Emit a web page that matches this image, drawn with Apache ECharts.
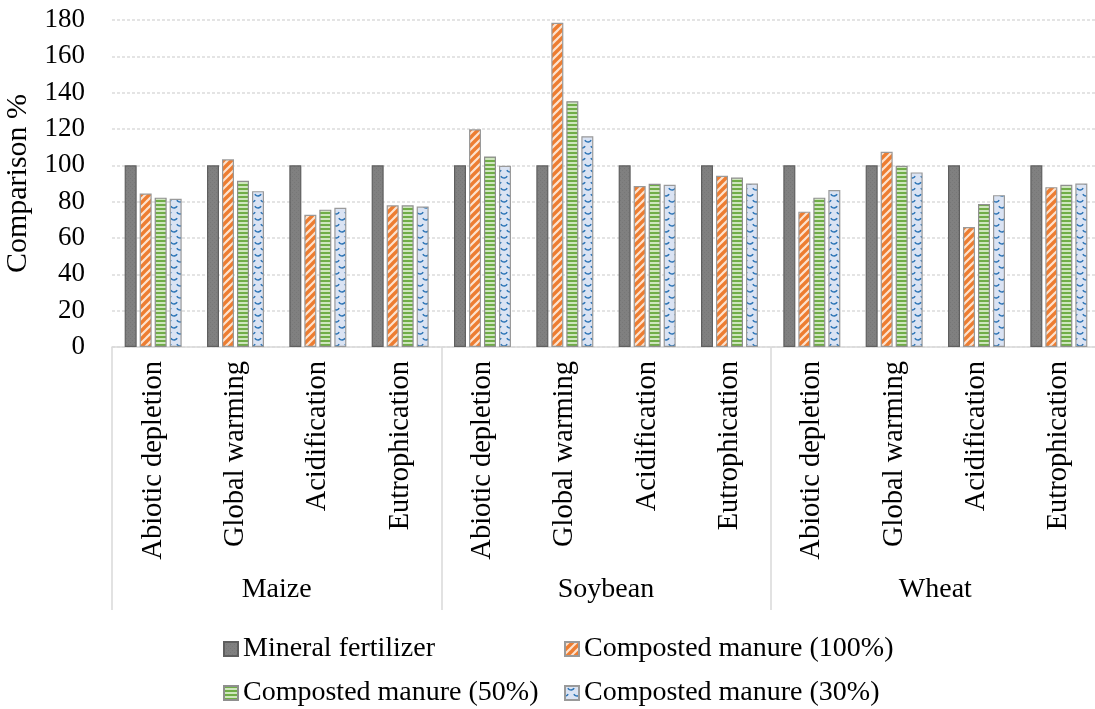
<!DOCTYPE html>
<html>
<head>
<meta charset="utf-8">
<script src="https://cdn.jsdelivr.net/npm/echarts@6/dist/echarts.min.js"></script>
<style>
html,body{margin:0;padding:0;background:#fff;}
#chart{width:1095px;height:709px;}
</style>
</head>
<body>
<div id="chart"></div>
<script>
// ---- data ----
const impacts = ['Abiotic depletion', 'Global warming', 'Acidification', 'Eutrophication'];
const crops = ['Maize', 'Soybean', 'Wheat'];
const categories = [].concat(impacts, impacts, impacts);
const seriesNames = ['Mineral fertilizer', 'Composted manure (100%)', 'Composted manure (50%)', 'Composted manure (30%)'];
const mineral = [100, 100, 100, 100, 100, 100, 100, 100, 100, 100, 100, 100];
const cm100 = [84.5, 103.3, 72.8, 78.0, 119.8, 178.5, 88.6, 94.2, 74.5, 107.5, 66.0, 88.0];
const cm50  = [82.2, 91.5, 75.6, 78.0, 104.8, 135.3, 89.8, 93.3, 82.2, 99.8, 78.7, 89.3];
const cm30  = [81.6, 85.8, 76.6, 77.3, 99.8, 116.0, 89.3, 90.0, 86.4, 96.1, 83.6, 90.0];
const yTicks = { min: 0, max: 180, interval: 20 };

// ---- patterns ----
function tile(w, h, draw) {
  const c = document.createElement('canvas');
  c.width = w; c.height = h;
  draw(c.getContext('2d'), w, h);
  return { image: c, repeat: 'repeat' };
}
const grayFill = tile(4, 4, (g, w, h) => {
  g.fillStyle = '#808080'; g.fillRect(0, 0, w, h);
  g.fillStyle = '#777777'; g.fillRect(0, 0, 1, 1); g.fillRect(2, 2, 1, 1);
});
const orangeFill = tile(8, 8, (g, w, h) => {
  g.fillStyle = '#fde3cf'; g.fillRect(0, 0, w, h);
  g.strokeStyle = '#ed7d31'; g.lineWidth = 3.4;
  [[0, 8, 8, 0], [-4, 4, 4, -4], [4, 12, 12, 4]].forEach(l => {
    g.beginPath(); g.moveTo(l[0], l[1]); g.lineTo(l[2], l[3]); g.stroke();
  });
});
const greenFill = tile(4, 4, (g, w, h) => {
  g.fillStyle = '#cfe6be'; g.fillRect(0, 0, w, h);
  g.fillStyle = '#70ad47'; g.fillRect(0, 0, w, 2);
});
const blueFill = tile(12, 12, (g, w, h) => {
  g.fillStyle = '#dae3f3'; g.fillRect(0, 0, w, h);
  g.strokeStyle = '#2e75b6'; g.lineWidth = 1.5;
  const arc = (x, y) => { g.beginPath(); g.arc(x, y, 3.5, 0.15 * Math.PI, 0.85 * Math.PI); g.stroke(); };
  arc(6, 0.5); arc(0, 6.5); arc(12, 6.5); arc(6, 12.5);
});

const FONT = "'Liberation Serif', 'Times New Roman', serif";
const fills = [grayFill, orangeFill, greenFill, blueFill];
const borders = ['#5f5f5f', '#9a9a9a', '#8f8f8f', '#9a9a9a'];
const values = [mineral, cm100, cm50, cm30];

const legendText = { fontFamily: FONT, fontSize: 28, color: '#000', lineHeight: 30 };

const chart = echarts.init(document.getElementById('chart'));
chart.setOption({
  animation: false,
  backgroundColor: '#fff',
  grid: { left: 112, right: -5, top: 20, bottom: 362, containLabel: false, outerBoundsMode: 'none' },
  legend: [
    {
      orient: 'vertical', left: 218, top: 629, height: 100, itemWidth: 14, itemHeight: 14, itemGap: 14, icon: 'rect',
      data: [seriesNames[0], seriesNames[2]], textStyle: legendText
    },
    {
      orient: 'vertical', left: 559, top: 629, height: 100, itemWidth: 14, itemHeight: 14, itemGap: 14, icon: 'rect',
      data: [seriesNames[1], seriesNames[3]], textStyle: legendText
    }
  ],
  xAxis: [
    {
      type: 'category', data: categories, position: 'bottom',
      axisLine: { show: true, lineStyle: { color: '#d9d9d9', width: 1.5 } },
      axisTick: { show: false },
      axisLabel: { interval: 0, rotate: 90, margin: 14, fontFamily: FONT, fontSize: 28.5, color: '#000' }
    },
    {
      type: 'category', data: crops, position: 'bottom',
      axisLine: { show: false },
      axisTick: { show: true, length: 263, lineStyle: { color: '#d9d9d9', width: 1.5 } },
      axisLabel: { interval: 0, margin: 229, fontFamily: FONT, fontSize: 28, color: '#000' },
      splitLine: { show: false }
    }
  ],
  yAxis: {
    type: 'value', min: yTicks.min, max: yTicks.max, interval: yTicks.interval,
    name: 'Comparison %', nameLocation: 'middle', nameGap: 71,
    nameTextStyle: { fontFamily: FONT, fontSize: 30, color: '#000' },
    axisLine: { show: false }, axisTick: { show: false },
    axisLabel: { margin: 27, fontFamily: FONT, fontSize: 27, color: '#000' },
    splitLine: { lineStyle: { color: '#dcdcdc', type: [3, 2], width: 1.5 } }
  },
  series: seriesNames.map((n, i) => ({
    name: n, type: 'bar', xAxisIndex: 0, data: values[i],
    barWidth: 12, barGap: '25%',
    itemStyle: { color: fills[i], borderColor: borders[i], borderWidth: 1.2 }
  }))
});
</script>
</body>
</html>
